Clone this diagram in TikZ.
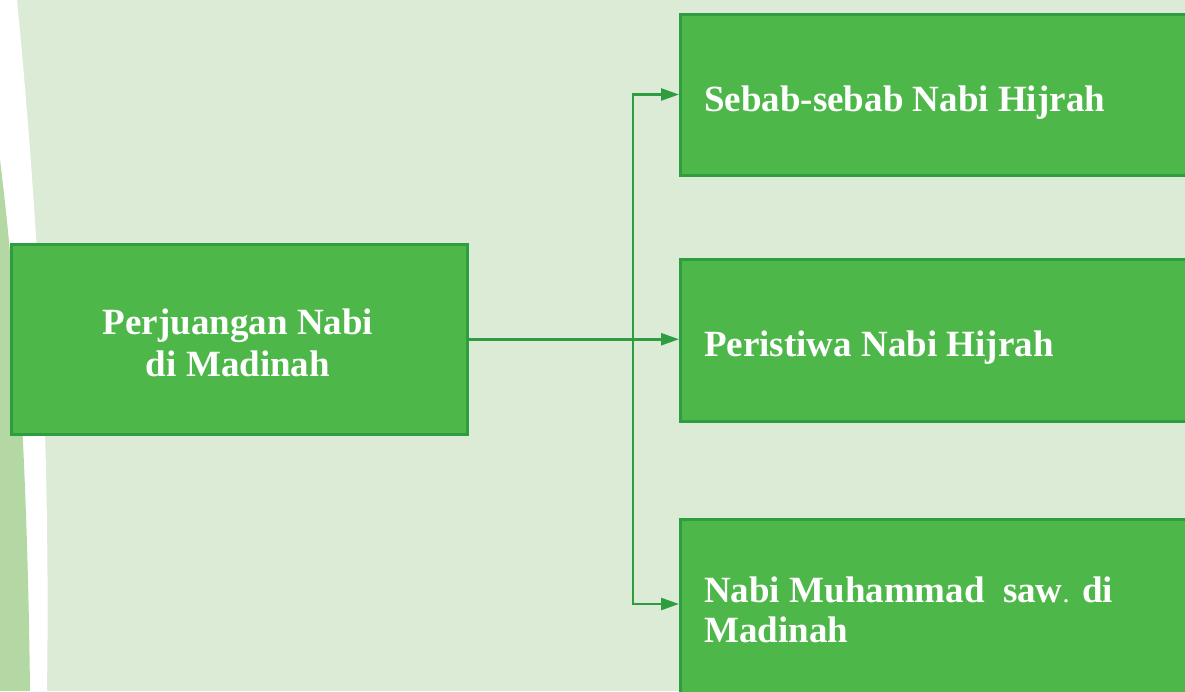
\documentclass[tikz,border=0pt]{standalone}
\usepackage{fontspec}
\setmainfont{Liberation Serif}
\usetikzlibrary{arrows.meta}

\definecolor{pagebg}{HTML}{DBEBD6}
\definecolor{leafgreen}{HTML}{B3D8A4}
\definecolor{boxfill}{HTML}{4DB849}
\definecolor{boxline}{HTML}{2E9D40}

\tikzset{
  topicbox/.style={draw=boxline, fill=boxfill, line width=2.5pt,
    rectangle, inner sep=0pt, anchor=north west},
  boxtext/.style={text=white, inner sep=0pt,
    font=\bfseries\fontsize{37}{41}\selectfont},
  link/.style={draw=boxline, line width=2.5pt,
    arrows={-{Triangle[length=18pt,width=12pt]}}},
  twolink/.style={draw=boxline, line width=2.5pt, line join=miter,
    arrows={{Triangle[length=18pt,width=12pt]}-{Triangle[length=18pt,width=12pt]}}}
}

\begin{document}
\begin{tikzpicture}[x=1pt, y=-1pt]
  \useasboundingbox (0,0) rectangle (1185,691);

  % page background with the curved band on the left
  \fill[pagebg] (0,0) rectangle (1185,691);
  \fill[white] (0,0) -- (17,0) .. controls (34,175) and (51,410) .. (47,691)
    -- (0,691) -- cycle;
  \fill[leafgreen] (0,160) .. controls (12,255) and (27,420) .. (30,691)
    -- (0,691) -- cycle;

  % main topic
  \node[topicbox, minimum width=456pt, minimum height=190pt] (main) at (10,243) {};
  \node[boxtext, align=center, font=\bfseries\fontsize{37}{42}\selectfont]
    (maintext) at (238,343) {Perjuangan Nabi\\di Madinah};

  % sub topics
  \node[topicbox, minimum width=560pt, minimum height=161pt] (b1) at (679,13) {};
  \node[topicbox, minimum width=560pt, minimum height=162pt] (b2) at (679,258) {};
  \node[topicbox, minimum width=560pt, minimum height=220pt] (b3) at (679,518) {};

  \node[boxtext, anchor=base west] (t1) at (704,111) {Sebab-sebab Nabi Hijrah};
  \node[boxtext, anchor=base west] (t2) at (704,356) {Peristiwa Nabi Hijrah};
  \node[boxtext, align=left, anchor=west, font=\bfseries\fontsize{37}{40}\selectfont]
    (t3) at (704,610)
    {Nabi Muhammad\hspace{9pt} saw{\mdseries\fontsize{28}{28}\selectfont.} di\\Madinah};

  % connectors
  \coordinate (jt) at (633,94.5);
  \coordinate (jb) at (633,604);
  \draw[link] (main.east) -- (b2.west |- main.east);
  \draw[twolink] (b1.west |- jt) -- (jt) -- (jb) -- (b3.west |- jb);
\end{tikzpicture}
\end{document}
